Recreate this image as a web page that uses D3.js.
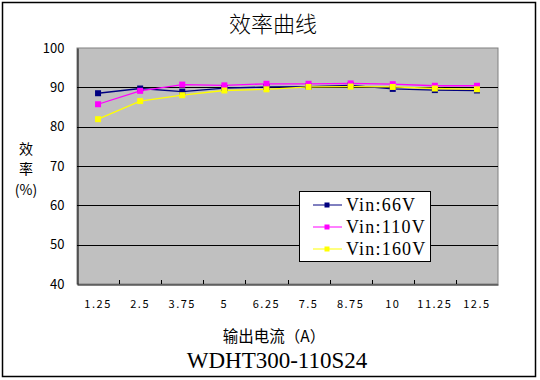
<!DOCTYPE html>
<html><head><meta charset="utf-8">
<script src="https://cdn.jsdelivr.net/npm/d3@7"></script>
<style>body{margin:0;background:#fff}svg{display:block}</style>
</head><body>
<svg id="c" width="540" height="380"></svg>
<script>
const categories = ["1.25","2.5","3.75","5","6.25","7.5","8.75","10","11.25","12.5"];
const vin66  = [88.5, 89.7, 88.9, 89.8, 90.1, 90.2, 90.5, 89.6, 89.3, 89.2];
const vin110 = [85.7, 89.1, 90.7, 90.5, 90.9, 90.9, 91.0, 90.8, 90.4, 90.4];
const vin160 = [81.9, 86.5, 88.0, 89.2, 89.5, 90.1, 90.2, 90.1, 89.7, 89.5];
const seriesNames = ["Vin:66V","Vin:110V","Vin:160V"];
const seriesColors = ["#000080","#ff00ff","#ffff00"];
const yTicks = [40,50,60,70,80,90,100];

const svg = d3.select("#c");
const L=77, R=498, T=48, B=284;
const x = d3.scaleBand().domain(categories).range([L,R]);
const y = d3.scaleLinear().domain([40,100]).range([B,T]);

svg.append("rect").attr("x",2.5).attr("y",2.5).attr("width",533).attr("height",374)
  .attr("fill","#fff").attr("stroke","#000").attr("stroke-width",1.5);

svg.append("rect").attr("x",L).attr("y",T).attr("width",R-L).attr("height",B-T)
  .attr("fill","#c0c0c0").attr("stroke","#808080");

// gridlines
svg.append("g").selectAll("line").data(yTicks.filter(d=>d>40&&d<100)).join("line")
  .attr("x1",L).attr("x2",R).attr("y1",d=>Math.round(y(d))+0.5).attr("y2",d=>Math.round(y(d))+0.5)
  .attr("stroke","#000");

// axes
const xAxis = svg.append("g").attr("transform",`translate(0,${B+0.5})`)
  .call(d3.axisBottom(x).tickSize(0).tickFormat(""));
xAxis.select(".domain").attr("stroke","#000");
svg.append("g").selectAll("line").data(categories.slice(1)).join("line")
  .attr("x1",d=>Math.round(x(d))+0.5).attr("x2",d=>Math.round(x(d))+0.5)
  .attr("y1",B-4).attr("y2",B).attr("stroke","#000");
svg.append("g").selectAll("text").data(categories).join("text")
  .attr("x",d=>x(d)+x.bandwidth()/2).attr("y",308).attr("text-anchor","middle")
  .attr("font-family","'Noto Sans CJK SC','DejaVu Sans Mono',monospace").attr("font-size",11)
  .attr("letter-spacing","1.5px").text(d=>d);

const yAxis = svg.append("g").attr("transform",`translate(${L+0.5},0)`)
  .call(d3.axisLeft(y).tickValues(yTicks).tickSize(0).tickPadding(13));
yAxis.select(".domain").attr("stroke","#000");
yAxis.selectAll("text").attr("font-family","'Noto Sans CJK SC',sans-serif").attr("font-size",13).attr("fill","#000");

// series
const all = [vin66, vin110, vin160];
const line = d3.line().x((d,i)=>x(categories[i])+x.bandwidth()/2).y(d=>y(d));
all.forEach((vals,si)=>{
  svg.append("path").datum(vals).attr("d",line).attr("fill","none")
    .attr("stroke",seriesColors[si]).attr("stroke-width",1.3);
});
all.forEach((vals,si)=>{
  svg.append("g").selectAll("rect").data(vals).join("rect")
    .attr("x",(d,i)=>x(categories[i])+x.bandwidth()/2-3).attr("y",d=>y(d)-3)
    .attr("width",6).attr("height",6).attr("fill",seriesColors[si]);
});

// legend
const lg = svg.append("g");
lg.append("rect").attr("x",299.5).attr("y",191.5).attr("width",131).attr("height",70)
  .attr("fill","#fff").attr("stroke","#000");
seriesNames.forEach((n,i)=>{
  const yy = 205 + i*22;
  lg.append("line").attr("x1",313).attr("x2",342).attr("y1",yy).attr("y2",yy).attr("stroke",seriesColors[i]);
  lg.append("rect").attr("x",324.5).attr("y",yy-2.5).attr("width",5).attr("height",5).attr("fill",seriesColors[i]);
  lg.append("text").attr("x",346).attr("y",yy+6).attr("font-family","'Liberation Serif',serif")
    .attr("font-size",18).attr("letter-spacing","1.2px").text(n);
});

// titles
svg.append("text").attr("x",273).attr("y",32).attr("text-anchor","middle")
  .attr("font-family","'Noto Sans CJK SC',sans-serif").attr("font-size",22).attr("font-weight",300).text("效率曲线");
svg.append("text").attr("x",274).attr("y",342).attr("text-anchor","middle")
  .attr("font-family","'Noto Sans CJK SC',sans-serif").attr("font-size",15.5).text("输出电流（A）");
svg.append("text").attr("x",277).attr("y",368).attr("text-anchor","middle")
  .attr("font-family","'Liberation Serif',serif").attr("font-size",23).text("WDHT300-110S24");
[["效",154],["率",174],["(%)",195]].forEach(([t,yy])=>{
  svg.append("text").attr("x",26).attr("y",yy).attr("font-family","'Noto Sans CJK SC',sans-serif")
    .attr("font-size",14).attr("text-anchor","middle").text(t);
});
</script>
</body></html>
